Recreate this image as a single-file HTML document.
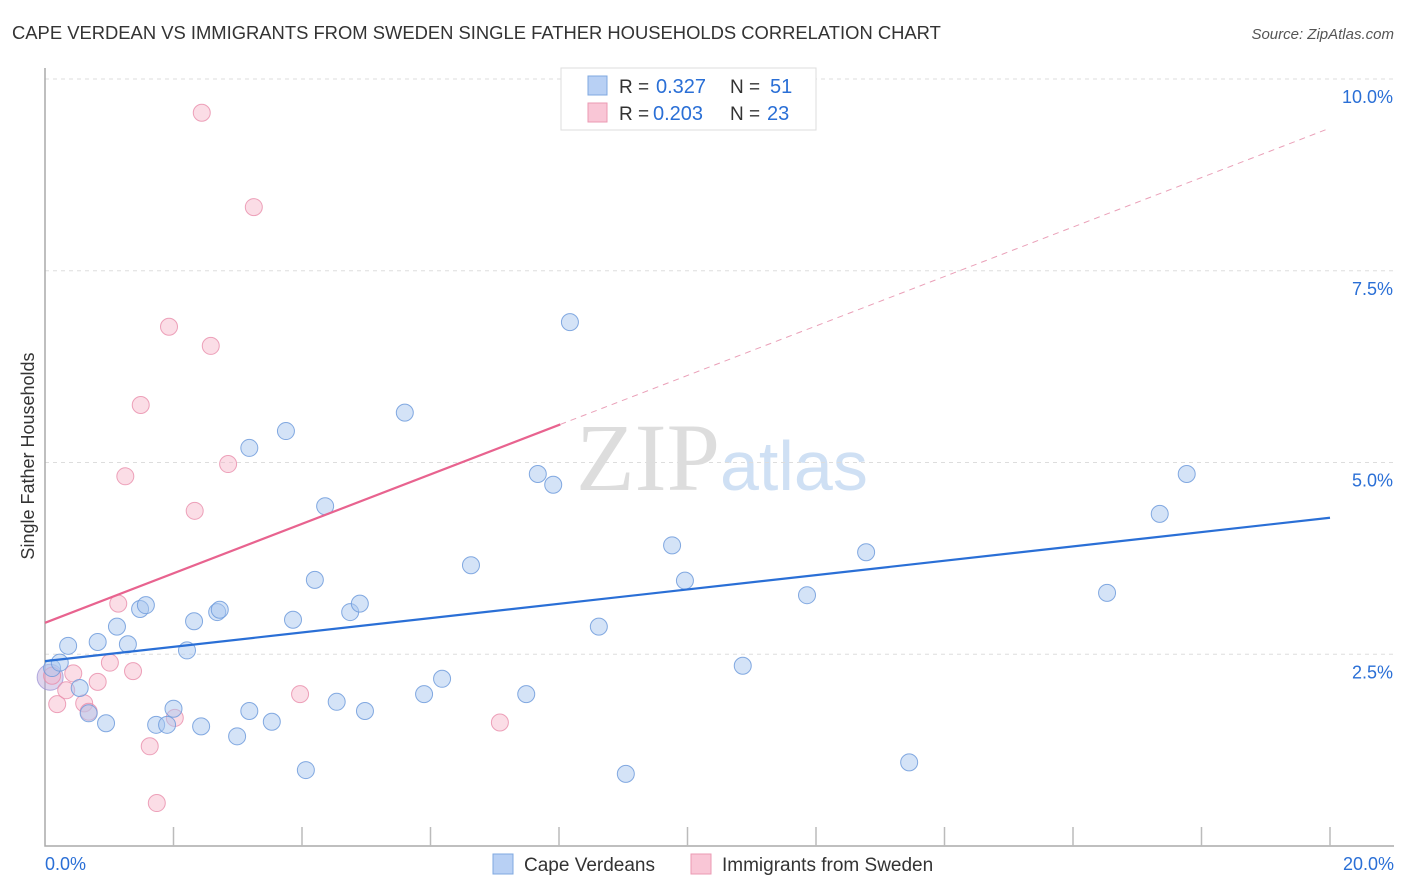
<!DOCTYPE html>
<html><head><meta charset="utf-8"><style>
body{margin:0;background:#fff;font-family:"Liberation Sans",sans-serif;}
svg{display:block}
</style></head><body>
<svg id="chart" width="1406" height="892">
<text x="12" y="39" font-size="18.4" fill="#333">CAPE VERDEAN VS IMMIGRANTS FROM SWEDEN SINGLE FATHER HOUSEHOLDS CORRELATION CHART</text>
<text x="1394" y="39" font-size="15" fill="#555" font-style="italic" text-anchor="end">Source: ZipAtlas.com</text>
<text x="34" y="456" font-size="18" fill="#333" transform="rotate(-90 34 456)" text-anchor="middle">Single Father Households</text>
<text x="720" y="490" font-size="96" fill="#ddd" text-anchor="end" font-family="Liberation Serif,serif">ZIP</text>
<text x="720" y="490" font-size="70" fill="#cfe0f4">atlas</text>
<g id="grid"></g><g id="pts"></g><g id="lines"></g>
<g>
<rect x="561" y="68" width="255" height="62" fill="#fff" stroke="#ddd"/>
<rect x="588" y="76" width="19" height="19" fill="#b8d0f4" stroke="#7fa8e0"/>
<rect x="588" y="103" width="19" height="19" fill="#f9c6d6" stroke="#eb9ab3"/>
<text x="619" y="93" font-size="19" fill="#333">R =</text><text x="656" y="93" font-size="20" fill="#2a6fd6">0.327</text>
<text x="730" y="93" font-size="19" fill="#333">N =</text><text x="770" y="93" font-size="20" fill="#2a6fd6">51</text>
<text x="619" y="120" font-size="19" fill="#333">R =</text><text x="653" y="120" font-size="20" fill="#2a6fd6">0.203</text>
<text x="730" y="120" font-size="19" fill="#333">N =</text><text x="767" y="120" font-size="20" fill="#2a6fd6">23</text>
</g>
<g>
<rect x="493" y="854" width="20" height="20" fill="#b8d0f4" stroke="#7fa8e0"/>
<text x="524" y="871" font-size="19" fill="#333">Cape Verdeans</text>
<rect x="691" y="854" width="20" height="20" fill="#f9c6d6" stroke="#eb9ab3"/>
<text x="722" y="871" font-size="19" fill="#333">Immigrants from Sweden</text>
</g>
</svg>
<script>
const blueX=[0.11,0.23,0.36,0.54,0.68,0.82,0.95,1.12,1.29,1.48,1.57,1.73,1.90,2.00,2.21,2.32,2.43,2.68,2.72,2.99,3.18,3.18,3.53,3.75,3.86,4.06,4.20,4.36,4.54,4.75,4.90,4.98,5.60,5.90,6.18,6.63,7.49,7.67,7.91,8.17,8.62,9.04,9.76,9.96,10.86,11.86,12.78,13.45,16.53,17.35,17.77];
const blueY=[2.32,2.39,2.61,2.06,1.73,2.66,1.60,2.86,2.63,3.09,3.14,1.58,1.58,1.79,2.55,2.93,1.56,3.05,3.08,1.43,1.76,5.19,1.62,5.41,2.95,0.99,3.47,4.43,1.88,3.05,3.16,1.76,5.65,1.98,2.18,3.66,1.98,4.85,4.71,6.83,2.86,0.94,3.92,3.46,2.35,3.27,3.83,1.09,3.30,4.33,4.85];
const pinkX=[0.11,0.19,0.33,0.44,0.61,0.68,0.82,1.01,1.14,1.25,1.37,1.49,1.63,1.74,1.93,2.02,2.33,2.44,2.58,2.85,3.25,3.97,7.08];
const pinkY=[2.22,1.85,2.03,2.25,1.86,1.75,2.14,2.39,3.16,4.82,2.28,5.75,1.30,0.56,6.77,1.67,4.37,9.56,6.52,4.98,8.33,1.98,1.61];
const blueTrend=[2.41,4.28];
const pinkTrend=[2.91,9.36];
const pinkSolidEnd=8.02;
const yTicks=[2.5,5.0,7.5,10.0];
const xTickLabels=["0.0%","20.0%"];
const X=v=>45+v*64.25, Y=v=>846-v*76.7;
const NS="http://www.w3.org/2000/svg";
function mk(p,t,a){const e=document.createElementNS(NS,t);for(const k in a)e.setAttribute(k,a[k]);p.appendChild(e);return e;}
const g=document.getElementById('grid');
yTicks.forEach(t=>{
 const l=mk(g,'line',{x1:45,x2:1394,y1:Y(t),y2:Y(t),stroke:'#ddd','stroke-dasharray':'4,4'});
 
 
 const tx=mk(g,'text',{x:1393,y:Y(t)+24,'font-size':18,fill:'#2a6fd6','text-anchor':'end'});
 tx.textContent=t.toFixed(1)+'%';
 
 
});
const ax=mk(g,'path',{d:'M45,68V846H1394',fill:'none',stroke:'#aaa','stroke-width':1.5});


for(let i=1;i<=10;i++){
 const tk=mk(g,'line',{x1:X(i*2),x2:X(i*2),y1:827,y2:846,stroke:'#bbb','stroke-width':1.5});
 
 
}
[[0,'start',45],[20,'end',1394]].forEach((d,i)=>{
 const tx=mk(g,'text',{x:d[2],y:870,'font-size':18,fill:'#2a6fd6','text-anchor':d[1]});
 tx.textContent=xTickLabels[i];
 
 
});
const p=document.getElementById('pts');
const big=mk(p,'circle',{cx:X(0.08),cy:Y(2.2),r:13,fill:'rgba(190,170,220,0.5)',stroke:'rgba(150,140,210,0.7)'});


pinkX.forEach((x,i)=>{
 const c=mk(p,'circle',{cx:X(x),cy:Y(pinkY[i]),r:8.5,fill:'rgba(246,180,200,0.45)',stroke:'rgba(232,140,170,0.8)'});
 
 
});
blueX.forEach((x,i)=>{
 const c=mk(p,'circle',{cx:X(x),cy:Y(blueY[i]),r:8.5,fill:'rgba(170,200,240,0.5)',stroke:'rgba(110,155,220,0.85)'});
 
 
});
const L=document.getElementById('lines');
const bl=mk(L,'line',{x1:X(0),y1:Y(blueTrend[0]),x2:X(20),y2:Y(blueTrend[1]),stroke:'#2a6fd6','stroke-width':2.2});


const pe=pinkTrend[0]+(pinkTrend[1]-pinkTrend[0])*pinkSolidEnd/20;
const pl=mk(L,'line',{x1:X(0),y1:Y(pinkTrend[0]),x2:X(pinkSolidEnd),y2:Y(pe),stroke:'#e8638f','stroke-width':2.2});


const pd=mk(L,'line',{x1:X(pinkSolidEnd),y1:Y(pe),x2:X(20),y2:Y(pinkTrend[1]),stroke:'#eaa0b8','stroke-width':1,'stroke-dasharray':'6,5'});


</script>
</body></html>
